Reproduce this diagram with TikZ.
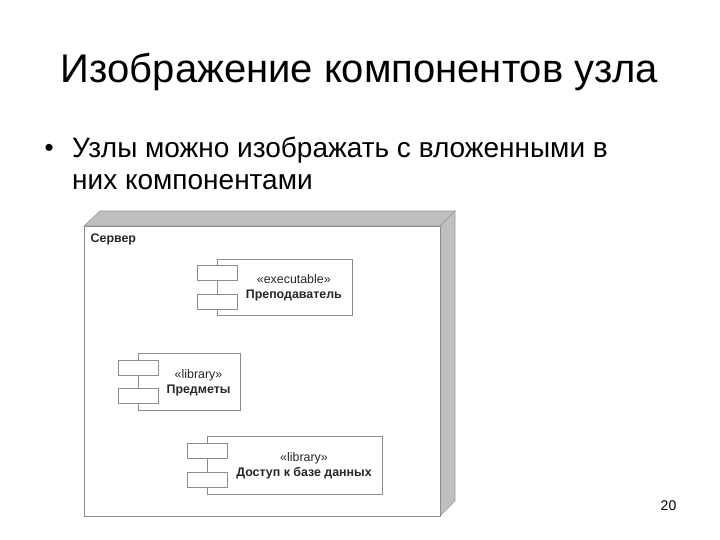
\documentclass[tikz,border=0pt]{standalone}
\usepackage{fontspec}
\setmainfont{Liberation Sans}
\begin{document}
\begin{tikzpicture}[x=1pt,y=-1pt]
        \tikzstyle{compbody}=[rectangle,draw=black!45,fill=white,line width=0.8pt,inner sep=0pt]
        \tikzstyle{comptab}=[rectangle,draw=black!45,fill=white,line width=0.8pt,inner sep=0pt,minimum width=40pt,minimum height=15pt]
        \tikzstyle{complabel}=[align=center,font=\fontsize{12.4}{15}\selectfont,inner sep=0pt,text=black!85]
        \useasboundingbox (0,0) rectangle (720,540);
        \node [anchor=base,font=\fontsize{40}{48}\selectfont,inner sep=0pt] (title) at (359.5,83) {Изображение компонентов узла};
        \node [anchor=base west,font=\fontsize{26}{30}\selectfont,inner sep=0pt] (bullet) at (44.5,157) {•};
        \node [anchor=base west,font=\fontsize{28}{32}\selectfont,inner sep=0pt] (line1) at (72,157.5) {Узлы можно изображать с вложенными в};
        \node [anchor=base west,font=\fontsize{28}{32}\selectfont,inner sep=0pt] (line2) at (72,189.5) {них компонентами};
        % node box
        \draw [draw=black!40,fill=black!25,line width=0.6pt] (84,226) -- (100,211) -- (455,211) -- (440,226) -- cycle;
        \draw [draw=black!40,fill=black!25,line width=0.6pt] (440,226) -- (455,211) -- (455,501) -- (440,516) -- cycle;
        \node [compbody,minimum width=356pt,minimum height=290pt] (server) at (262,371) {};
        \node [anchor=base west,font=\fontsize{12.4}{13}\selectfont\bfseries,inner sep=0pt,text=black!85] (servername) at (90.5,243) {Сервер};
        % first component
        \node [compbody,minimum width=135pt,minimum height=56pt] (teacher) at (284.5,287) {};
        \node [comptab] (teacher1) at (217,272.5) {};
        \node [comptab] (teacher2) at (217,301.5) {};
        \node [complabel] (teacherlabel) at (293.8,288) {«executable»\\\textbf{Преподаватель}};
        % second component
        \node [compbody,minimum width=102pt,minimum height=57pt] (subjects) at (189,381.5) {};
        \node [comptab] (subjects1) at (138,367.5) {};
        \node [comptab] (subjects2) at (138,395.5) {};
        \node [complabel] (subjectslabel) at (198.5,382.5) {«library»\\\textbf{Предметы}};
        % third component
        \node [compbody,minimum width=175pt,minimum height=58pt] (access) at (294.5,465) {};
        \node [comptab] (access1) at (207,450.5) {};
        \node [comptab] (access2) at (207,479.5) {};
        \node [complabel] (accesslabel) at (304,466) {«library»\\\textbf{Доступ к базе данных}};
        \node [anchor=base,font=\fontsize{14}{16}\selectfont,inner sep=0pt] (pagenum) at (668.5,510) {20};
\end{tikzpicture}
\end{document}
